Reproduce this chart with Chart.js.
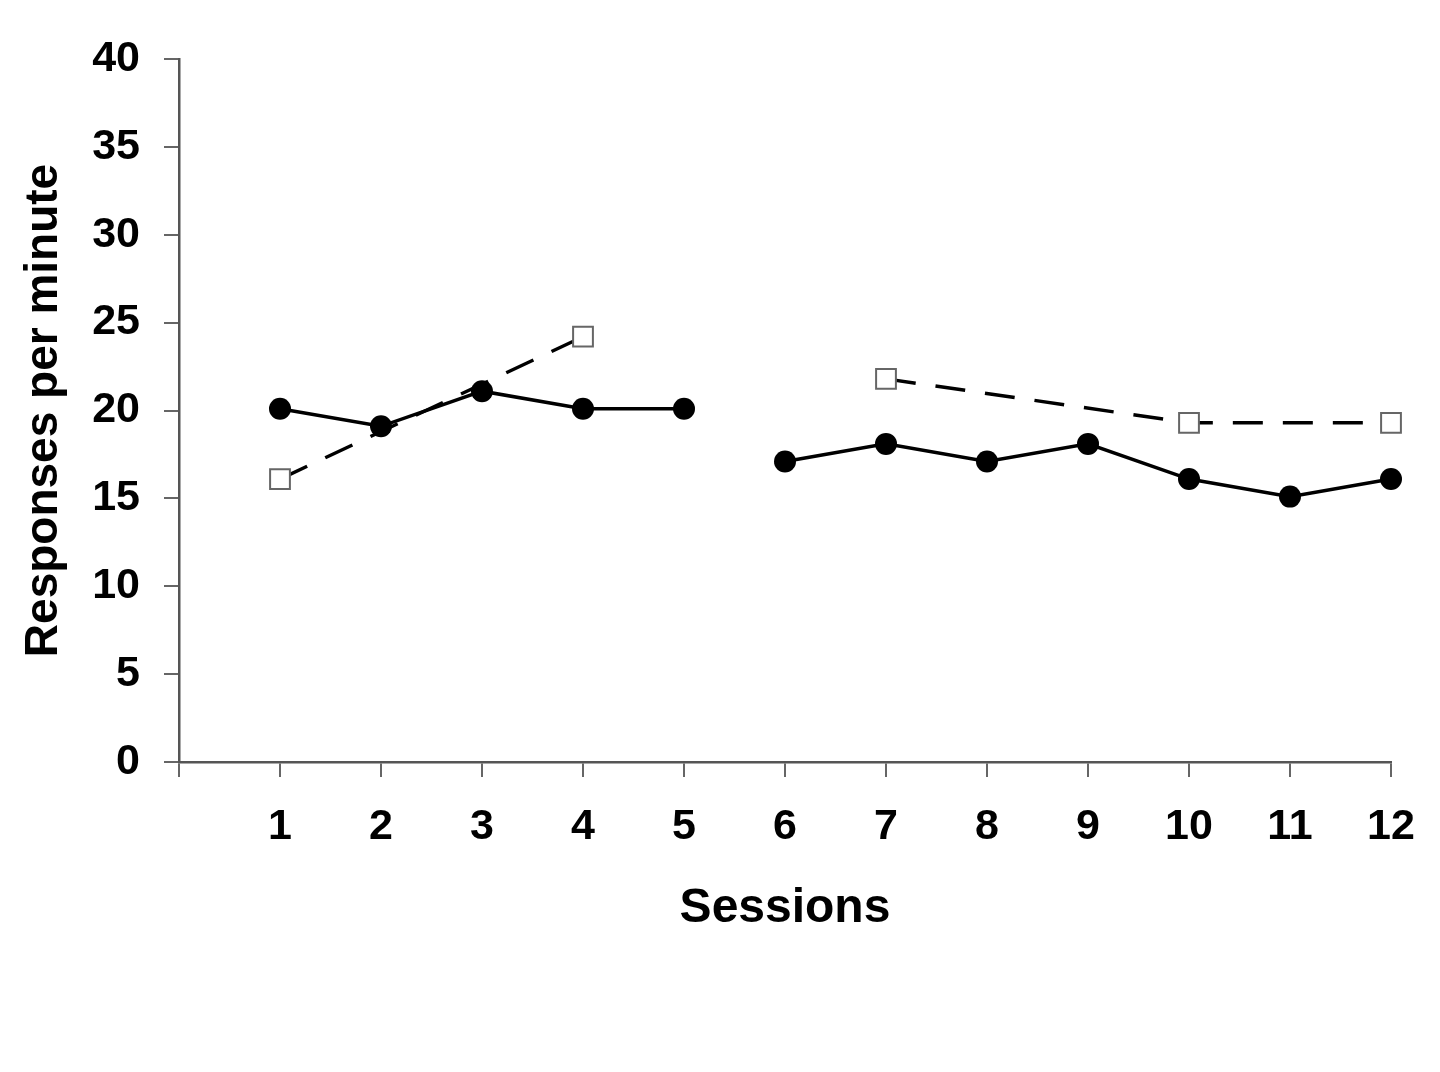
<!DOCTYPE html>
<html>
<head>
<meta charset="utf-8">
<title>Responses per minute</title>
<script src="https://cdn.jsdelivr.net/npm/chart.js@4.4.1/dist/chart.umd.min.js"></script>
<style>
    html, body { margin: 0; padding: 0; background: #fff; }
    #wrap { width: 1440px; height: 1072px; }
</style>
</head>
<body>
<div id="wrap"><canvas id="chart" width="1440" height="1072"></canvas></div>
<script>
// Sessions on the x axis
const sessions = [1, 2, 3, 4, 5, 6, 7, 8, 9, 10, 11, 12];
// filled circles, solid line
const circleValues = [20.1, 19.1, 21.1, 20.1, 20.1, 17.1, 18.1, 17.1, 18.1, 16.1, 15.1, 16.1];
// open squares, dashed line
const squareSessions = [1, 4, 7, 10, 12];
const squareValues = [16.1, 24.2, 21.8, 19.3, 19.3];
// tick labels
const yTicks = [0, 5, 10, 15, 20, 25, 30, 35, 40];
// the line is broken between the two phases
const phaseBreak = 5.5;

const font = "'Liberation Sans', Arial, Helvetica, sans-serif";

// Don't draw the segment crossing the phase change
function breakAtPhase(color) {
    return ctx => (ctx.p0.parsed.x < phaseBreak && ctx.p1.parsed.x > phaseBreak) ? 'rgba(0,0,0,0)' : color;
}

const ctx = document.getElementById('chart').getContext('2d');

new Chart(ctx, {
    type: 'line',
    data: {
        datasets: [
            {
                label: 'squares',
                data: squareSessions.map((s, i) => ({ x: s, y: squareValues[i] })),
                borderColor: '#000',
                borderWidth: 3.5,
                borderDash: [30, 20],
                pointStyle: 'rect',
                pointRadius: 14,
                pointBackgroundColor: '#fff',
                pointBorderColor: '#666',
                pointBorderWidth: 2,
                segment: { borderColor: breakAtPhase('#000') },
                clip: false,
                order: 0,
            },
            {
                label: 'circles',
                data: sessions.map((s, i) => ({ x: s, y: circleValues[i] })),
                borderColor: '#000',
                borderWidth: 3.5,
                pointStyle: 'circle',
                pointRadius: 11,
                pointBackgroundColor: '#000',
                pointBorderColor: '#000',
                pointBorderWidth: 0,
                segment: { borderColor: breakAtPhase('#000') },
                clip: false,
                order: 1,
            },
        ],
    },
    options: {
        responsive: false,
        animation: false,
        layout: { padding: { left: 0, right: 49, top: 59, bottom: 0 } },
        plugins: {
            legend: { display: false },
            tooltip: { enabled: false },
        },
        scales: {
            x: {
                type: 'linear',
                min: 0,
                max: 12,
                afterFit: scale => { scale.height = 310; },
                border: { display: true, color: '#555', width: 2.5 },
                grid: { drawOnChartArea: false, drawTicks: true, tickLength: 15, color: '#666', lineWidth: 2 },
                ticks: {
                    stepSize: 1,
                    padding: 24,
                    color: '#000',
                    font: { family: font, size: 43, weight: 'bold' },
                    maxRotation: 0,
                    callback: v => (v === 0 ? '' : v),
                },
                title: {
                    display: true,
                    text: 'Sessions',
                    color: '#000',
                    font: { family: font, size: 48, weight: 'bold' },
                    padding: { top: 0, bottom: 134 },
                },
            },
            y: {
                min: 0,
                max: 40,
                afterFit: scale => { scale.width = 179; },
                afterBuildTicks: scale => { scale.ticks = yTicks.map(v => ({ value: v })); },
                border: { display: true, color: '#555', width: 2.5 },
                grid: { drawOnChartArea: false, drawTicks: true, tickLength: 15, color: '#666', lineWidth: 2 },
                ticks: {
                    padding: 24,
                    color: '#000',
                    font: { family: font, size: 43, weight: 'bold' },
                },
                title: {
                    display: true,
                    text: 'Responses per minute',
                    color: '#000',
                    font: { family: font, size: 46, weight: 'bold' },
                    padding: { top: 17, bottom: 0 },
                },
            },
        },
    },
});
</script>
</body>
</html>
